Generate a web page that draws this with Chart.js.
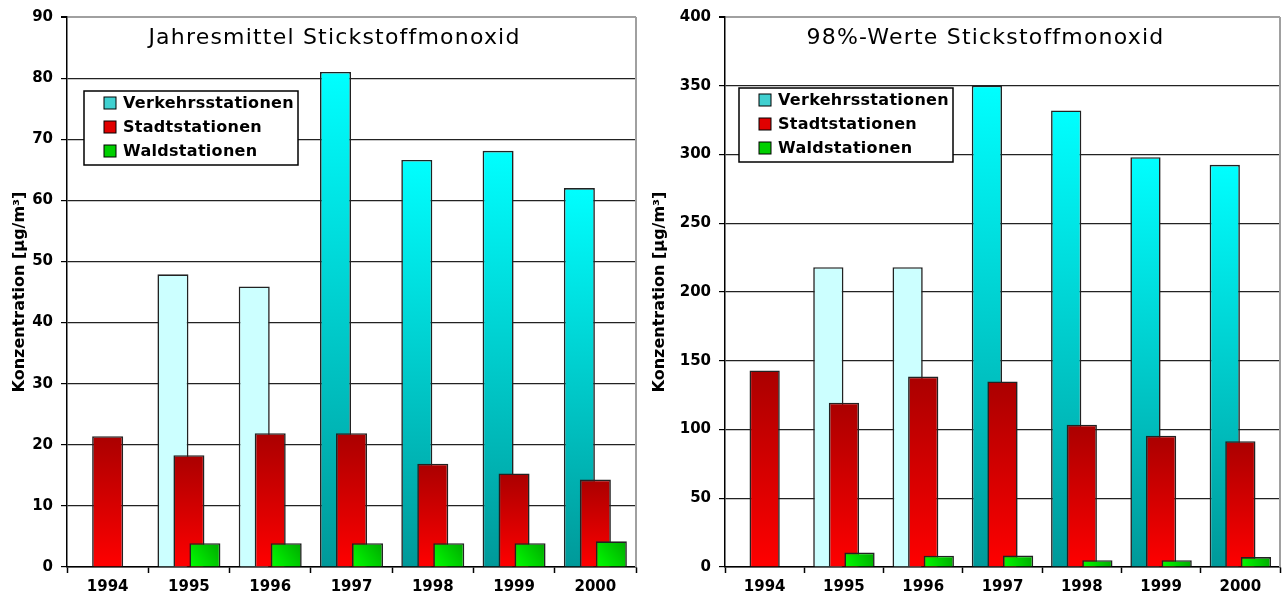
<!DOCTYPE html>
<html>
<head>
<meta charset="utf-8">
<script src="https://cdn.jsdelivr.net/npm/chart.js@4.4.1/dist/chart.umd.min.js"></script>
<style>
html, body { margin: 0; padding: 0; background: #fff; }
.panel { position: absolute; top: 0; width: 644px; height: 600px; }
#p1 { left: 0; }
#p2 { left: 644px; }
</style>
</head>
<body>
<div class="panel" id="p1"><canvas id="c1"></canvas></div>
<div class="panel" id="p2"><canvas id="c2"></canvas></div>
<script>
// Werte
var years = ['1994', '1995', '1996', '1997', '1998', '1999', '2000'];
var seriesNames = ['Verkehrsstationen', 'Stadtstationen', 'Waldstationen'];

// Jahresmittel Stickstoffmonoxid
var meanTraffic = [null, 47.9, 45.9, 81.0, 66.6, 68.1, 62.0];
var meanUrban   = [21.4, 18.3, 21.9, 21.9, 16.9, 15.3, 14.3];
var meanForest  = [null, 3.9, 3.9, 3.9, 3.9, 3.9, 4.2];

// 98%-Werte Stickstoffmonoxid
var p98Traffic = [null, 218, 218, 350, 332, 298, 292.5];
var p98Urban   = [143, 119.5, 138.5, 135, 103.5, 95.5, 91.5];
var p98Forest  = [null, 10.5, 8.2, 8.3, 5.0, 5.0, 7.2];

var paleYears = ['1995', '1996'];

var FONT = '"DejaVu Sans", "Liberation Sans", sans-serif';
var CAT_PCT = 0.59, BAR_PCT = 1.94;

function barSpan(c) {
	var ys = c.chart.scales.y;
	if (!ys) return null;
	var top = ys.getPixelForValue(c.raw), bot = ys.getPixelForValue(0);
	if (!isFinite(top) || !isFinite(bot)) return null;
	return [top, bot];
}

function trafficColor(c) {
	if (c.type !== 'data' || c.raw == null) return '#40d0d0';
	if (paleYears.indexOf(years[c.dataIndex]) >= 0) return '#ccffff';
	var s = barSpan(c);
	if (!s) return '#00cccc';
	var g = c.chart.ctx.createLinearGradient(0, s[0], 0, s[1]);
	g.addColorStop(0, '#00ffff');
	g.addColorStop(1, '#009999');
	return g;
}

function urbanColor(c) {
	if (c.type !== 'data' || c.raw == null) return '#e00000';
	var s = barSpan(c);
	if (!s) return '#dd0000';
	var g = c.chart.ctx.createLinearGradient(0, s[0], 0, s[1]);
	g.addColorStop(0, '#aa0000');
	g.addColorStop(1, '#ff0000');
	return g;
}

function forestColor(c) {
	if (c.type !== 'data' || c.raw == null) return '#00d000';
	var s = barSpan(c);
	var xs = c.chart.scales.x;
	if (!s || !xs) return '#00d000';
	var slot = xs.width / years.length * CAT_PCT / 3;
	var mid = xs.getPixelForValue(c.dataIndex) + slot;
	var half = slot * BAR_PCT / 2;
	if (!isFinite(mid) || !isFinite(half)) return '#00d000';
	var g = c.chart.ctx.createLinearGradient(mid - half, s[1], mid + half, s[0]);
	g.addColorStop(0, '#00ff00');
	g.addColorStop(1, '#00a800');
	return g;
}

var legendColors = ['#40d0d0', '#e00000', '#00d000'];

// Balken in Datensatz-Reihenfolge zeichnen (gruen oben), Rahmen, Titel, Legende
var panelPlugin = {
	id: 'panel',
	beforeDatasetsDraw: function(chart) {
		var a = chart.chartArea, ctx = chart.ctx;
		ctx.save();
		ctx.strokeStyle = '#a0a0a0';
		ctx.lineWidth = 2;
		ctx.beginPath();
		ctx.moveTo(a.right, a.top);
		ctx.lineTo(a.right, a.bottom);
		ctx.stroke();
		ctx.restore();
		var metas = chart.getSortedVisibleDatasetMetas();
		for (var i = 0; i < metas.length; i++) {
			metas[i].controller.draw();
		}
		return false;
	},
	afterDraw: function(chart, args, o) {
		var a = chart.chartArea, ctx = chart.ctx;
		ctx.save();
		// Titel
		ctx.fillStyle = '#000';
		ctx.font = '22px ' + FONT;
		ctx.letterSpacing = '1.2px';
		ctx.textAlign = 'center';
		ctx.textBaseline = 'middle';
		ctx.fillText(o.title, (a.left + a.right) / 2 + o.titleShift, 38);
		// Legende
		var lx = a.left + o.legendX, ly = o.legendY;
		ctx.fillStyle = '#fff';
		ctx.fillRect(lx, ly, 214, 74);
		ctx.strokeStyle = '#000';
		ctx.lineWidth = 1.5;
		ctx.strokeRect(lx, ly, 214, 74);
		ctx.font = 'bold 16px ' + FONT;
		ctx.letterSpacing = '0.3px';
		ctx.textAlign = 'left';
		for (var i = 0; i < seriesNames.length; i++) {
			var ry = ly + 12 + i * 24;
			ctx.fillStyle = legendColors[i];
			ctx.fillRect(lx + 20, ry - 6, 12, 12);
			ctx.strokeStyle = '#000';
			ctx.lineWidth = 1;
			ctx.strokeRect(lx + 20, ry - 6, 12, 12);
			ctx.fillStyle = '#000';
			ctx.fillText(seriesNames[i], lx + 39, ry + 1);
		}
		ctx.restore();
	}
};

function makeChart(id, cfg) {
	var ds = function(label, data, color) {
		return {
			label: label,
			data: data,
			backgroundColor: color,
			borderColor: '#222',
			borderWidth: 1.6,
			categoryPercentage: CAT_PCT,
			barPercentage: BAR_PCT
		};
	};
	var chart = new Chart(document.getElementById(id), {
		type: 'bar',
		data: {
			labels: years,
			datasets: [
				ds(seriesNames[0], cfg.traffic, trafficColor),
				ds(seriesNames[1], cfg.urban, urbanColor),
				ds(seriesNames[2], cfg.forest, forestColor)
			]
		},
		plugins: [panelPlugin],
		options: {
			responsive: true,
			maintainAspectRatio: false,
			animation: false,
			layout: { padding: { top: 16, right: 8, left: 0, bottom: 0 } },
			plugins: {
				legend: { display: false },
				tooltip: { enabled: false },
				panel: { title: cfg.title, titleShift: -17, legendX: cfg.legendX, legendY: cfg.legendY }
			},
			scales: {
				x: {
					offset: true,
					grid: { display: true, drawOnChartArea: false, offset: true, tickLength: 6, tickColor: '#000', tickWidth: 1.5 },
					border: { color: '#000', width: 1.5 },
					ticks: { color: '#000', padding: 5, font: { family: FONT, size: 15, weight: 'bold' } },
					afterFit: function(s) { s.height = 33; }
				},
				y: {
					min: 0,
					max: cfg.max,
					ticks: { stepSize: cfg.step, color: '#000', padding: 8, font: { family: FONT, size: 15, weight: 'bold' } },
					grid: {
						color: function(c) { return c.tick && c.tick.value === cfg.max ? '#a0a0a0' : '#222'; },
						lineWidth: function(c) { return c.tick && c.tick.value === cfg.max ? 2 : 1.2; },
						tickColor: '#000',
						tickLength: 6
					},
					border: { color: '#000', width: 1.5 },
					title: {
						display: true,
						text: 'Konzentration [µg/m³]',
						color: '#000',
						font: { family: FONT, size: 16, weight: 'bold' },
						padding: { top: cfg.titlePad, bottom: 0 }
					},
					afterFit: function(s) { s.width = cfg.yWidth; }
				}
			}
		}
	});
	chart.update('none');
	return chart;
}

makeChart('c1', {
	title: 'Jahresmittel Stickstoffmonoxid',
	traffic: meanTraffic, urban: meanUrban, forest: meanForest,
	max: 90, step: 10, yWidth: 67, titlePad: 10, legendX: 17, legendY: 91
});

makeChart('c2', {
	title: '98%-Werte Stickstoffmonoxid',
	traffic: p98Traffic, urban: p98Urban, forest: p98Forest,
	max: 400, step: 50, yWidth: 81, titlePad: 6, legendX: 14, legendY: 88
});
</script>
</body>
</html>
